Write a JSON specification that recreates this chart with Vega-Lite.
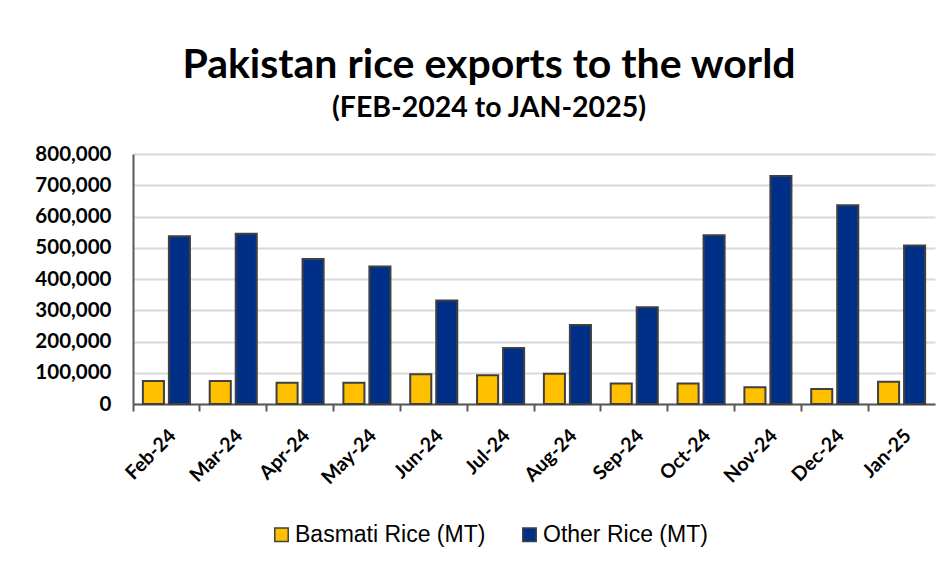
{
  "$schema": "https://vega.github.io/schema/vega-lite/v6.json",
  "autosize": "none",
  "width": 802,
  "height": 250,
  "padding": {"left": 133, "top": 154, "right": 11, "bottom": 162},
  "background": "white",
  "title": {
    "text": "Pakistan rice exports to the world",
    "subtitle": "(FEB-2024 to JAN-2025)",
    "anchor": "middle",
    "frame": "group",
    "dx": -45,
    "font": "Lato",
    "fontSize": 41,
    "fontWeight": "bold",
    "color": "black",
    "subtitleFont": "Lato",
    "subtitleFontSize": 28.5,
    "subtitleFontWeight": "bold",
    "subtitleColor": "black",
    "subtitlePadding": 7,
    "offset": 21
  },
  "data": {
    "values": [
      {"month": "Feb-24", "type": "Basmati Rice (MT)", "value": 74000},
      {"month": "Feb-24", "type": "Other Rice (MT)", "value": 537000},
      {"month": "Mar-24", "type": "Basmati Rice (MT)", "value": 74000},
      {"month": "Mar-24", "type": "Other Rice (MT)", "value": 545000},
      {"month": "Apr-24", "type": "Basmati Rice (MT)", "value": 68000},
      {"month": "Apr-24", "type": "Other Rice (MT)", "value": 464000},
      {"month": "May-24", "type": "Basmati Rice (MT)", "value": 68000},
      {"month": "May-24", "type": "Other Rice (MT)", "value": 440000},
      {"month": "Jun-24", "type": "Basmati Rice (MT)", "value": 95000},
      {"month": "Jun-24", "type": "Other Rice (MT)", "value": 331000},
      {"month": "Jul-24", "type": "Basmati Rice (MT)", "value": 92000},
      {"month": "Jul-24", "type": "Other Rice (MT)", "value": 179000},
      {"month": "Aug-24", "type": "Basmati Rice (MT)", "value": 97000},
      {"month": "Aug-24", "type": "Other Rice (MT)", "value": 253000},
      {"month": "Sep-24", "type": "Basmati Rice (MT)", "value": 66000},
      {"month": "Sep-24", "type": "Other Rice (MT)", "value": 310000},
      {"month": "Oct-24", "type": "Basmati Rice (MT)", "value": 66000},
      {"month": "Oct-24", "type": "Other Rice (MT)", "value": 540000},
      {"month": "Nov-24", "type": "Basmati Rice (MT)", "value": 54000},
      {"month": "Nov-24", "type": "Other Rice (MT)", "value": 730000},
      {"month": "Dec-24", "type": "Basmati Rice (MT)", "value": 48000},
      {"month": "Dec-24", "type": "Other Rice (MT)", "value": 636000},
      {"month": "Jan-25", "type": "Basmati Rice (MT)", "value": 71000},
      {"month": "Jan-25", "type": "Other Rice (MT)", "value": 507000}
    ]
  },
  "mark": {"type": "bar", "stroke": "#404040", "strokeWidth": 2},
  "encoding": {
    "x": {
      "field": "month",
      "type": "nominal",
      "sort": null,
      "scale": {"paddingInner": 0, "paddingOuter": 0},
      "axis": {
        "title": null,
        "bandPosition": 0,
        "labelAngle": -45,
        "labelFont": "Lato",
        "labelFontSize": 19.5,
        "labelFontWeight": "bold",
        "labelColor": "black",
        "labelPadding": 15,
        "tickSize": 7,
        "tickColor": "#595959",
        "tickWidth": 2,
        "domainColor": "#595959",
        "domainWidth": 2,
        "grid": false
      }
    },
    "xOffset": {
      "field": "type",
      "type": "nominal",
      "scale": {"paddingInner": 0.19, "paddingOuter": 0.38}
    },
    "y": {
      "field": "value",
      "type": "quantitative",
      "scale": {"domain": [0, 800000], "nice": false},
      "axis": {
        "title": null,
        "values": [0, 100000, 200000, 300000, 400000, 500000, 600000, 700000, 800000],
        "format": ",d",
        "labelFont": "Lato",
        "labelFontSize": 20.5,
        "labelFontWeight": "bold",
        "labelColor": "black",
        "labelPadding": 22,
        "ticks": false,
        "domainColor": "#595959",
        "domainWidth": 2,
        "gridColor": "#d9d9d9",
        "gridWidth": 2
      }
    },
    "fill": {
      "field": "type",
      "type": "nominal",
      "scale": {"domain": ["Basmati Rice (MT)", "Other Rice (MT)"], "range": ["#FFC000", "#002F87"]},
      "legend": {
        "title": null,
        "orient": "none",
        "direction": "horizontal",
        "legendX": 137,
        "legendY": 369,
        "symbolType": "square",
        "symbolSize": 180,
        "symbolStrokeColor": "#404040",
        "symbolStrokeWidth": 1.5,
        "labelFont": "Liberation Sans",
        "labelFontSize": 23,
        "labelLimit": 400,
        "labelColor": "black",
        "labelOffset": 2,
        "columnPadding": 32
      }
    }
  },
  "config": {"view": {"stroke": null}}
}
